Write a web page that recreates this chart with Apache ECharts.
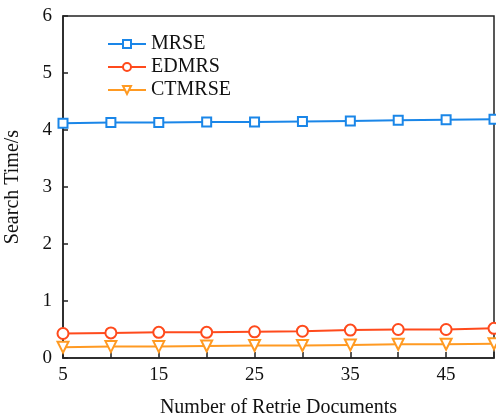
<!DOCTYPE html>
<html>
<head>
<meta charset="utf-8">
<script src="https://cdn.jsdelivr.net/npm/echarts@6/dist/echarts.min.js"></script>
<style>
  html, body { margin: 0; padding: 0; background: #fff; }
  #chart { width: 496px; height: 417px; }
</style>
</head>
<body>
<div id="chart"></div>
<script>
// Number of retrieved documents
const docs = [5, 10, 15, 20, 25, 30, 35, 40, 45, 50];
// Search time (seconds) per scheme
const mrse   = [4.12, 4.13, 4.13, 4.14, 4.14, 4.15, 4.16, 4.17, 4.18, 4.19];
const edmrs  = [0.43, 0.44, 0.45, 0.45, 0.46, 0.47, 0.49, 0.50, 0.50, 0.52];
const ctmrse = [0.19, 0.20, 0.20, 0.21, 0.22, 0.22, 0.23, 0.24, 0.24, 0.25];

const serif = '"Liberation Serif", "DejaVu Serif", serif';
const axisColor = '#222';

function pairs(ys) { return docs.map((x, i) => [x, ys[i]]); }

const chart = echarts.init(document.getElementById('chart'), null, { renderer: 'canvas' });
chart.setOption({
  animation: false,
  backgroundColor: '#fff',
  textStyle: { fontFamily: serif },
  grid: {
    left: 63, right: 2, top: 16, bottom: 59,
    outerBoundsMode: 'none', containLabel: false,
    show: true, borderColor: axisColor, borderWidth: 1.5, backgroundColor: 'transparent'
  },
  legend: {
    left: 102, top: 29, orient: 'vertical', itemGap: 3,
    itemWidth: 38, itemHeight: 10,
    textStyle: { fontFamily: serif, fontSize: 20, color: '#111', lineHeight: 20 },
    data: ['MRSE', 'EDMRS', 'CTMRSE']
  },
  xAxis: {
    type: 'value', min: 5, max: 50, interval: 5,
    name: 'Number of Retrie Documents', nameLocation: 'middle', nameGap: 40,
    nameTextStyle: { fontFamily: serif, fontSize: 20, color: '#111' },
    axisLine: { lineStyle: { color: axisColor, width: 1.5 } },
    axisTick: { inside: true, length: 6, lineStyle: { color: axisColor, width: 1.5 } },
    axisLabel: {
      fontFamily: serif, fontSize: 19, color: '#111', margin: 8,
      formatter: v => ((v - 5) % 10 === 0 ? String(v) : '')
    },
    splitLine: { show: false }
  },
  yAxis: {
    type: 'value', min: 0, max: 6, interval: 1,
    name: 'Search Time/s', nameLocation: 'middle', nameGap: 40,
    nameTextStyle: { fontFamily: serif, fontSize: 20, color: '#111' },
    axisLine: { lineStyle: { color: axisColor, width: 1.5 } },
    axisTick: { inside: true, length: 5, lineStyle: { color: axisColor, width: 1.5 } },
    axisLabel: { fontFamily: serif, fontSize: 19, color: '#111', margin: 11 },
    splitLine: { show: false }
  },
  series: [
    {
      name: 'MRSE', type: 'line', data: pairs(mrse),
      symbol: 'emptyRect', symbolSize: 9,
      itemStyle: { color: '#1a86e8', borderWidth: 2 },
      lineStyle: { color: '#1a86e8', width: 2 }
    },
    {
      name: 'EDMRS', type: 'line', data: pairs(edmrs),
      symbol: 'emptyCircle', symbolSize: 11,
      itemStyle: { color: '#ff4a1c', borderWidth: 2 },
      lineStyle: { color: '#ff4a1c', width: 2 }
    },
    {
      name: 'CTMRSE', type: 'line', data: pairs(ctmrse),
      symbol: 'emptyTriangle', symbolSize: 11, symbolRotate: 180,
      itemStyle: { color: '#ff9a22', borderWidth: 2 },
      lineStyle: { color: '#ff9a22', width: 2 }
    }
  ]
});
</script>
</body>
</html>
